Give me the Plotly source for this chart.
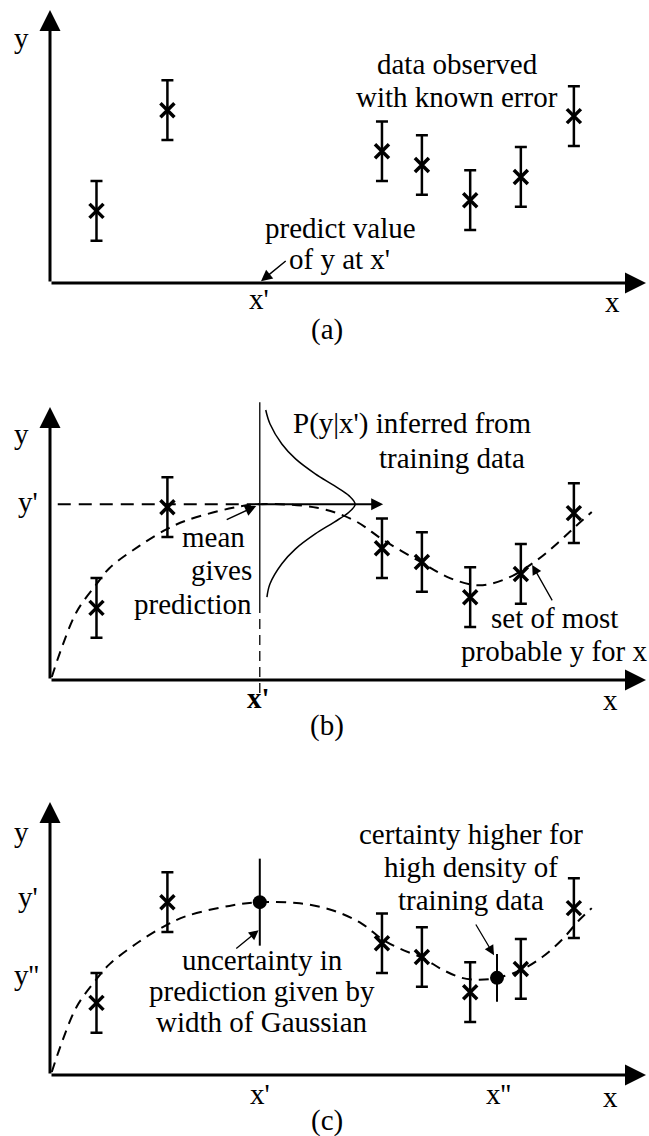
import plotly.graph_objects as go

# ---------------------------------------------------------------------------
# Data (arbitrary units; x axis runs 0..10, y axis 0..~4.6)
# ---------------------------------------------------------------------------
# training observations with their known errors (same in all three panels)
x_obs = [0.78, 1.97, 5.57, 6.24, 7.05, 7.90, 8.79]
y_obs = [1.21, 2.90, 2.21, 1.98, 1.39, 1.78, 2.80]
y_err = [0.50, 0.50, 0.50, 0.50, 0.50, 0.50, 0.50]

# query locations and the predictions made there
x_prime = 3.52
x_dprime = 7.50
y_prime = 2.95
x_pred = [3.52, 7.50]
y_pred = [2.90, 1.63]
y_pred_err = [0.73, 0.40]

# set of most probable y for every x, panel (b)
curve_b_x = [0.03, 0.20, 0.45, 0.79, 1.00, 1.50, 1.96, 2.30, 3.07, 3.52,
             4.48, 5.10, 5.59, 6.22, 6.71, 7.20, 7.68, 8.17, 8.52, 8.81, 9.09]
curve_b_y = [0.05, 0.55, 1.15, 1.62, 1.88, 2.25, 2.53, 2.68, 2.89, 2.95,
             2.89, 2.68, 2.35, 1.98, 1.71, 1.59, 1.71, 2.01, 2.30, 2.57, 2.82]

# set of most probable y for every x, panel (c)
curve_c_x = [0.03, 0.20, 0.45, 0.79, 1.00, 1.50, 1.96, 2.30, 3.07, 3.52,
             4.19, 4.75, 5.23, 5.57, 5.87, 6.26, 6.58, 6.91, 7.20, 7.50,
             7.90, 8.26, 8.59, 8.88, 9.09]
curve_c_y = [0.05, 0.55, 1.15, 1.62, 1.86, 2.24, 2.52, 2.67, 2.85, 2.90,
             2.88, 2.76, 2.54, 2.28, 2.12, 1.96, 1.77, 1.63, 1.60, 1.63,
             1.76, 1.98, 2.27, 2.60, 2.80]

# P(y|x') drawn sideways on the vertical line through x'
gauss_x = [3.62, 3.69, 3.89, 4.12, 4.45, 4.77, 5.02, 5.12,
           5.02, 4.77, 4.45, 4.12, 3.89, 3.69, 3.64]
gauss_y = [4.53, 4.30, 3.96, 3.71, 3.46, 3.26, 3.09, 2.95,
           2.82, 2.65, 2.45, 2.20, 1.95, 1.61, 1.39]

# ---------------------------------------------------------------------------
# Page geometry
# ---------------------------------------------------------------------------
W, H = 649, 1136
UNIT = 59.6          # pixels per data unit, both directions
X0 = 50              # pixel column of the y axis
# (top, bottom, pixel row of x axis) for panels a, b, c
PANELS = [(0, 360, 283), (360, 750, 680), (750, 1136, 1075)]

X_TIP = 10.0         # end of the x axis arrow
Y_TIP = 4.58         # end of the y axis arrow

FONT = dict(family="Liberation Serif, Times New Roman, serif", size=29, color="black")

fig = go.Figure()
layout_axes = {}
for i, (top, bottom, base) in enumerate(PANELS, start=1):
    sfx = "" if i == 1 else str(i)
    layout_axes["xaxis" + sfx] = dict(
        domain=[0, 1], range=[-X0 / UNIT, (W - X0) / UNIT],
        visible=False, anchor="y" + sfx, fixedrange=True)
    layout_axes["yaxis" + sfx] = dict(
        domain=[1 - bottom / H, 1 - top / H],
        range=[(base - bottom) / UNIT, (base - top) / UNIT],
        visible=False, anchor="x" + sfx, fixedrange=True)

refs = [("x", "y"), ("x2", "y2"), ("x3", "y3")]

annotations = []


def text(panel, x, y, s, bold=False, xanchor="center"):
    xr, yr = refs[panel]
    if bold:
        s = "<b>" + s + "</b>"
    annotations.append(dict(x=x, y=y, xref=xr, yref=yr, text=s, showarrow=False,
                            font=dict(FONT), xanchor=xanchor, yanchor="middle"))


def arrow(panel, x0, y0, x1, y1, width=1.5, size=1.5, head=2):
    xr, yr = refs[panel]
    annotations.append(dict(x=x1, y=y1, ax=x0, ay=y0, xref=xr, yref=yr,
                            axref=xr, ayref=yr, text="", showarrow=True,
                            arrowhead=head, arrowsize=size, arrowwidth=width,
                            arrowcolor="black", standoff=0, startstandoff=0))


# coordinate axes with arrowheads in every panel
for p in range(3):
    arrow(p, 0, 0, X_TIP, 0, width=3, size=1.4)
    arrow(p, 0, 0, 0, Y_TIP, width=3, size=1.4)

# observed data in every panel
for p, (xr, yr) in enumerate(refs):
    fig.add_trace(go.Scatter(
        x=x_obs, y=y_obs, mode="markers", xaxis=xr, yaxis=yr,
        marker=dict(symbol="x-thin", size=14, color="black",
                    line=dict(color="black", width=3.5)),
        error_y=dict(type="data", array=y_err, visible=True,
                     color="black", thickness=2.5, width=6),
        showlegend=False, hoverinfo="skip"))

# ---- panel (a) -------------------------------------------------------------
text(0, -0.47, 4.11, "y")
text(0, 9.43, -0.32, "x")
text(0, 3.51, -0.27, "x'")
text(0, 4.65, -0.78, "(a)")
text(0, 6.83, 3.67, "data observed")
text(0, 6.83, 3.12, "with known error")
text(0, 4.88, 0.92, "predict value")
text(0, 4.85, 0.40, "of y at x'")
arrow(0, 3.98, 0.39, 3.54, 0.03, width=1.5, size=1.5)

# ---- panel (b) -------------------------------------------------------------
fig.add_trace(go.Scatter(
    x=curve_b_x, y=curve_b_y, mode="lines", xaxis="x2", yaxis="y2",
    line=dict(color="black", width=2, dash="10px,7px", shape="spline"),
    showlegend=False, hoverinfo="skip"))
# vertical line through x': solid above, dashed down to the axis
fig.add_trace(go.Scatter(
    x=[x_prime, x_prime], y=[4.66, 1.29], mode="lines", xaxis="x2", yaxis="y2",
    line=dict(color="black", width=1.3), showlegend=False, hoverinfo="skip"))
fig.add_trace(go.Scatter(
    x=[x_prime, x_prime], y=[1.29, -0.22], mode="lines", xaxis="x2", yaxis="y2",
    line=dict(color="black", width=1.3, dash="10px,6px"),
    showlegend=False, hoverinfo="skip"))
# y' read across to the axis
fig.add_trace(go.Scatter(
    x=[0.13, x_prime], y=[y_prime, y_prime], mode="lines", xaxis="x2", yaxis="y2",
    line=dict(color="black", width=2, dash="13px,8px"),
    showlegend=False, hoverinfo="skip"))
# the predictive distribution
fig.add_trace(go.Scatter(
    x=gauss_x, y=gauss_y, mode="lines", xaxis="x2", yaxis="y2",
    line=dict(color="black", width=1.5, shape="spline"),
    showlegend=False, hoverinfo="skip"))
arrow(1, x_prime, y_prime, 5.59, y_prime, width=2, size=1.2)

text(1, -0.47, 4.13, "y")
text(1, -0.37, 2.98, "y'")
text(1, 3.49, -0.30, "x'", bold=True)
text(1, 9.41, -0.33, "x")
text(1, 4.65, -0.76, "(b)")
text(1, 6.09, 4.30, "P(y|x') inferred from")
text(1, 6.74, 3.72, "training data")
text(1, 3.30, 2.40, "mean", xanchor="right")
text(1, 3.43, 1.85, "gives", xanchor="right")
text(1, 3.43, 1.28, "prediction", xanchor="right")
arrow(1, 2.94, 2.68, 3.46, 2.92, width=1.5, size=1.5)
text(1, 8.47, 1.04, "set of most")
text(1, 8.47, 0.49, "probable y for x")
arrow(1, 8.44, 1.31, 8.09, 1.93, width=1.3, size=1.5)

# ---- panel (c) -------------------------------------------------------------
fig.add_trace(go.Scatter(
    x=curve_c_x, y=curve_c_y, mode="lines", xaxis="x3", yaxis="y3",
    line=dict(color="black", width=2, dash="10px,7px", shape="spline"),
    showlegend=False, hoverinfo="skip"))
fig.add_trace(go.Scatter(
    x=x_pred, y=y_pred, mode="markers", xaxis="x3", yaxis="y3",
    marker=dict(symbol="circle", size=14, color="black"),
    error_y=dict(type="data", array=y_pred_err, visible=True,
                 color="black", thickness=2, width=0),
    showlegend=False, hoverinfo="skip"))

text(2, -0.47, 4.08, "y")
text(2, -0.37, 2.99, "y'")
text(2, -0.39, 1.68, "y''")
text(2, 3.52, -0.32, "x'")
text(2, 7.52, -0.32, "x''")
text(2, 9.41, -0.37, "x")
text(2, 4.65, -0.76, "(c)")
text(2, 7.06, 4.04, "certainty higher for")
text(2, 7.06, 3.49, "high density of")
text(2, 7.06, 2.94, "training data")
arrow(2, 7.13, 2.55, 7.45, 2.01, width=1.3, size=1.5)
text(2, 3.56, 1.93, "uncertainty in")
text(2, 3.56, 1.41, "prediction given by")
text(2, 3.56, 0.89, "width of Gaussian")
arrow(2, 3.10, 2.10, 3.50, 2.43, width=1.3, size=1.5)

fig.update_layout(
    width=W, height=H,
    margin=dict(l=0, r=0, t=0, b=0),
    paper_bgcolor="white", plot_bgcolor="white",
    showlegend=False,
    annotations=annotations,
    **layout_axes)

fig.write_html("out.html")
